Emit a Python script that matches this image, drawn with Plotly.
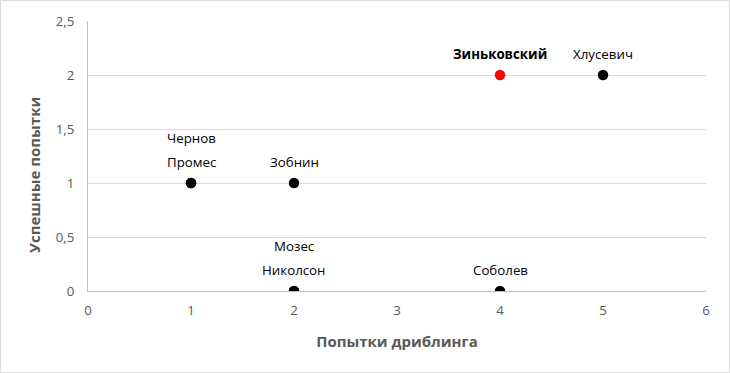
import plotly.graph_objects as go

# Data
players = ["Промес", "Чернов", "Зобнин", "Николсон", "Мозес", "Соболев", "Зиньковский", "Хлусевич"]
dribble_attempts = [1, 1, 2, 2, 2, 4, 4, 5]
successful = [1, 1, 1, 0, 0, 0, 2, 2]
highlight = "Зиньковский"

x_ticks = [0, 1, 2, 3, 4, 5, 6]
y_ticks = [0, 0.5, 1, 1.5, 2, 2.5]

W, H = 730, 373
ml, mr, mt, mb = 88, 24, 21, 82
pw, ph = W - ml - mr, H - mt - mb

font_family = "Open Sans, Noto Sans, sans-serif"
tick_col = "#595959"

colors = ["#ff0000" if p == highlight else "#000000" for p in players]

fig = go.Figure()
fig.add_trace(go.Scatter(
    x=dribble_attempts, y=successful, mode="markers",
    marker=dict(size=10.5, color=colors),
    text=players, hoverinfo="text", showlegend=False,
))

# labels stacked above points
seen = {}
for p, x, y in zip(players, dribble_attempts, successful):
    k = (x, y)
    idx = seen.get(k, 0)
    seen[k] = idx + 1
    bold = p == highlight
    fig.add_annotation(
        x=x, y=y, xref="x", yref="y",
        text=f"<b>{p}</b>" if bold else p,
        showarrow=False, yshift=21 + idx * 24,
        font=dict(family=font_family, size=13.3, color="#000000"),
    )

# y-axis title as annotation
fig.add_annotation(
    x=(34 - ml) / pw, y=(mt + ph - 175) / ph, xref="paper", yref="paper",
    xanchor="center", yanchor="middle",
    text="<b>Успешные попытки</b>", textangle=-90, showarrow=False,
    font=dict(family=font_family, size=15, color=tick_col),
)

# chart border
fig.add_shape(
    type="rect", xref="paper", yref="paper",
    x0=(0.5 - ml) / pw, x1=(W - 0.5 - ml) / pw,
    y0=(mt + ph - (H - 0.5)) / ph, y1=(mt + ph - 0.5) / ph,
    line=dict(color="#d9d9d9", width=1), layer="below",
)

fig.update_layout(
    width=W, height=H,
    margin=dict(l=ml, r=mr, t=mt, b=mb),
    paper_bgcolor="white", plot_bgcolor="white",
    separators=", ",
    font=dict(family=font_family, color=tick_col),
    xaxis=dict(
        range=[0, 6], tickvals=x_ticks, showgrid=False, zeroline=False,
        showline=True, linecolor="#bfbfbf", linewidth=1,
        ticks="", tickfont=dict(size=13.3, color=tick_col),
        ticklabelstandoff=7,
        title=dict(text="<b>Попытки дриблинга</b>", font=dict(size=15, color=tick_col), standoff=18),
    ),
    yaxis=dict(
        range=[0, 2.5], tickvals=y_ticks, showgrid=True, gridcolor="#d9d9d9", gridwidth=1,
        zeroline=False, showline=True, linecolor="#bfbfbf", linewidth=1,
        ticks="", tickfont=dict(size=13.3, color=tick_col), ticklabelstandoff=10,
        tickformat=",.1~f",
    ),
)

fig.write_html("out.html", config={"displayModeBar": False},
               post_script="document.body.style.margin='0';")
